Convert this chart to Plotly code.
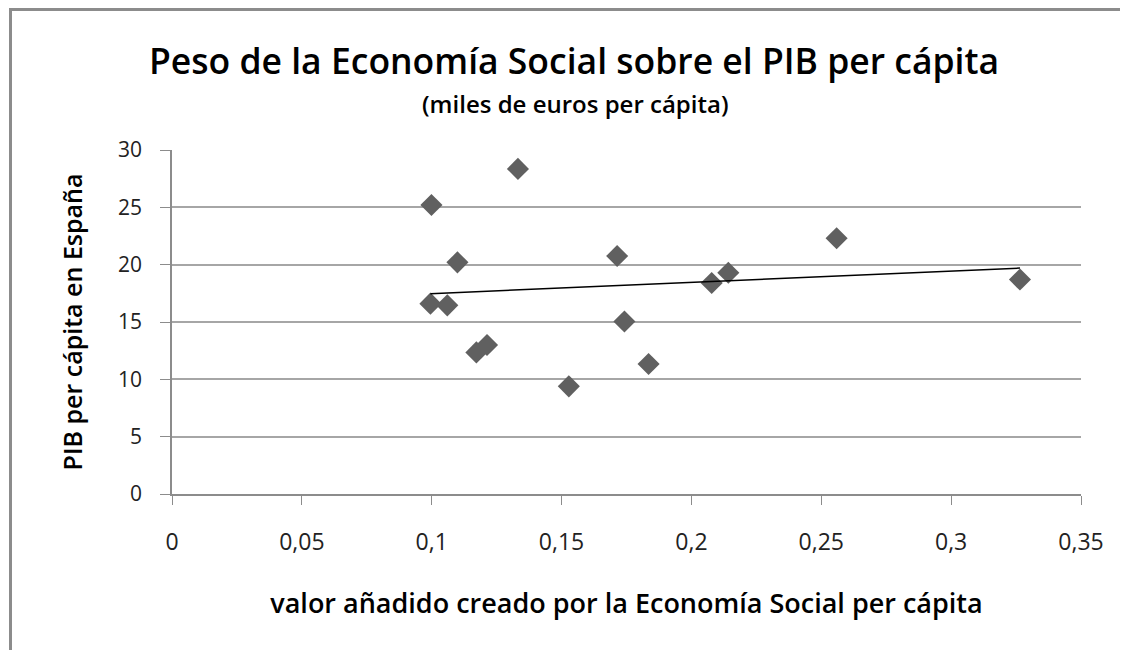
'''
    Scatter chart: weight of the Social Economy against GDP per capita.
    Diamond markers with a linear trend line, Excel-like styling.
'''

import plotly.graph_objects as go

# valor añadido creado por la Economía Social per cápita (miles de euros)
valor_anadido = [0.0999, 0.1332, 0.1099, 0.1714, 0.0995, 0.1060, 0.1742, 0.2078,
                 0.2142, 0.1172, 0.1213, 0.1835, 0.1528, 0.2559, 0.3265]
# PIB per cápita en España (miles de euros)
pib_per_capita = [25.2, 28.35, 20.2, 20.75, 16.6, 16.45, 15.05, 18.4,
                  19.3, 12.35, 13.0, 11.34, 9.39, 22.3, 18.7]

# linear trend line, ends
trend_x = [0.0995, 0.3265]
trend_y = [17.47, 19.7]

x_ticks = [0, 0.05, 0.1, 0.15, 0.2, 0.25, 0.3, 0.35]
x_tick_labels = ['0', '0,05', '0,1', '0,15', '0,2', '0,25', '0,3', '0,35']
y_ticks = [0, 5, 10, 15, 20, 25, 30]

FONT = 'Open Sans'
GRID = '#a6a6a6'

# figure size (the page adds an 8px body margin) and plot area in pixels
W, H = 1120, 642
L, R, T, B = 164, 47, 142, 156
PW, PH = W - L - R, H - T - B


def px_to_paper(px, py):
    return (px - L) / PW, (H - B - py) / PH


def init_figure():
    fig = go.Figure()
    fig.add_trace(go.Scatter(
        x=valor_anadido,
        y=pib_per_capita,
        mode='markers',
        marker=dict(symbol='diamond', size=17, color='#606060', line=dict(width=0)),
        showlegend=False,
    ))
    fig.add_trace(go.Scatter(
        x=trend_x,
        y=trend_y,
        mode='lines',
        line=dict(color='#000000', width=1.5),
        showlegend=False,
    ))
    return fig


def style(fig):
    # outer chart frame, only its top and left sides are visible
    x0, y0 = px_to_paper(2.5, 1.5)
    x1, _ = px_to_paper(W + 5, 1.5)
    _, y1 = px_to_paper(2.5, H + 5)
    frame = dict(color='#8c8c8c', width=3)
    fig.add_shape(type='line', xref='paper', yref='paper',
                  x0=px_to_paper(1, 0)[0], y0=y0, x1=x1, y1=y0, line=frame)
    fig.add_shape(type='line', xref='paper', yref='paper',
                  x0=x0, y0=y0, x1=x0, y1=y1, line=frame)

    # title and subtitle as two centred annotations
    tx, ty = px_to_paper(566, 52)
    fig.add_annotation(
        text='Peso de la Economía Social sobre el PIB per cápita',
        xref='paper', yref='paper', x=tx, y=ty,
        xanchor='center', yanchor='middle', showarrow=False,
        font=dict(family=FONT, size=35.5, weight=600, color='#000000'),
    )
    sx, sy = px_to_paper(567, 95)
    fig.add_annotation(
        text='(miles de euros per cápita)',
        xref='paper', yref='paper', x=sx, y=sy,
        xanchor='center', yanchor='middle', showarrow=False,
        font=dict(family=FONT, size=24, weight=600, color='#000000'),
    )

    fig.update_layout(
        width=W,
        height=H,
        margin=dict(l=L, r=R, t=T, b=B),
        paper_bgcolor='white',
        plot_bgcolor='white',
        font=dict(family=FONT, color='#222222'),
        xaxis=dict(
            range=[0, 0.35],
            tickvals=x_ticks,
            ticktext=x_tick_labels,
            showgrid=False,
            zeroline=False,
            showline=True,
            linecolor='#8c8c8c',
            linewidth=1.5,
            ticks='outside',
            ticklen=9,
            tickcolor='#8c8c8c',
            ticklabelstandoff=18,
            tickfont=dict(family=FONT, size=23, color='#222222'),
            title=dict(
                text='valor añadido creado por la Economía Social per cápita',
                font=dict(family=FONT, size=27, weight=600, color='#000000'),
                standoff=38,
            ),
        ),
        yaxis=dict(
            range=[0, 30],
            tickvals=y_ticks,
            showgrid=True,
            gridcolor=GRID,
            gridwidth=1.5,
            zeroline=False,
            showline=True,
            linecolor='#8c8c8c',
            linewidth=1.5,
            ticks='outside',
            ticklen=10,
            tickcolor='#8c8c8c',
            ticklabelstandoff=14,
            tickfont=dict(family=FONT, size=21, color='#222222'),
            title=dict(
                text='PIB per cápita en España',
                font=dict(family=FONT, size=25, weight=600, color='#000000'),
                standoff=28,
            ),
        ),
    )
    return fig


fig = style(init_figure())
fig.write_html('out.html')
